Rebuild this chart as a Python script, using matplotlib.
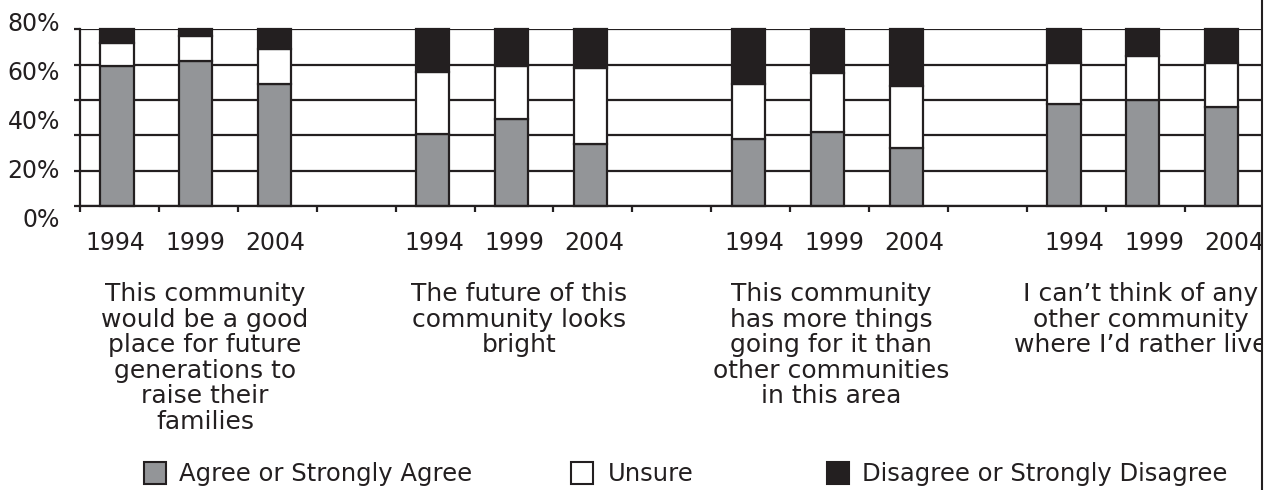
import numpy as np
import matplotlib
matplotlib.use("Agg")
import matplotlib.pyplot as plt
from matplotlib.patches import Rectangle
from matplotlib.lines import Line2D

# ---------------- data ----------------
years = ["1994", "1999", "2004"]
statements = [
    "This community\nwould be a good\nplace for future\ngenerations to\nraise their\nfamilies",
    "The future of this\ncommunity looks\nbright",
    "This community\nhas more things\ngoing for it than\nother communities\nin this area",
    "I can\u2019t think of any\nother community\nwhere I\u2019d rather live",
]
agree    = [79, 82, 69, 41, 49, 35, 38, 42, 33, 58, 60, 56]
unsure   = [13, 14, 20, 35, 30, 43, 31, 33, 35, 23, 25, 25]
disagree = [ 8,  4, 11, 24, 21, 22, 31, 25, 32, 19, 15, 19]
series_names = ["Agree or Strongly Agree", "Unsure", "Disagree or Strongly Disagree"]
ytick_labels = ["0%", "20%", "40%", "60%", "80%"]

# ---------------- style ----------------
W, H = 1277, 490
DARK = "#231f20"
GRAY = "#939598"
WHITE = "#ffffff"
plt.rcParams['font.family'] = ['DejaVu Sans']

fig = plt.figure(figsize=(W / 100, H / 100), dpi=100)
ax = fig.add_axes([80 / W, (H - 206) / H, 1182 / W, (206 - 29.3) / H])

# slot positions: 3 bars per group, one empty slot between groups
slots = []
for g in range(len(statements)):
    for j in range(len(years)):
        slots.append(g * 4 + j)
slots = np.array(slots, dtype=float)

agree_a = np.array(agree)
unsure_a = np.array(unsure)
dis_a = np.array(disagree)
bw = 0.42
lw = 1.6
ax.bar(slots, agree_a, width=bw, color=GRAY, edgecolor=DARK, linewidth=lw, zorder=3, clip_on=False)
ax.bar(slots, unsure_a, width=bw, bottom=agree_a, color=WHITE, edgecolor=DARK, linewidth=lw, zorder=3, clip_on=False)
ax.bar(slots, dis_a, width=bw, bottom=agree_a + unsure_a, color=DARK, edgecolor=DARK, linewidth=lw, zorder=3, clip_on=False)

ax.set_xlim(-0.469, 14.51)
ax.set_ylim(0, 100)

# grid / spines / ticks
ax.set_yticks(np.arange(0, 101, 20))
ax.yaxis.grid(True, color=DARK, linewidth=1.6, zorder=1)
ax.set_axisbelow(True)
ax.set_xticks(-0.469 + np.arange(15))
ax.tick_params(axis='x', direction='out', length=4, width=1.6, color=DARK, labelbottom=False)
ax.tick_params(axis='y', direction='out', length=4.5, width=1.6, color=DARK, labelleft=False)
for s in ['top', 'right']:
    ax.spines[s].set_visible(False)
for s in ['left', 'bottom']:
    ax.spines[s].set_color(DARK)
    ax.spines[s].set_linewidth(1.6)
    ax.spines[s].set_zorder(4)

# y labels (offset as in the reference)
ylab_pos = np.linspace(-11.9, 99.0, len(ytick_labels))
for yv, lab in zip(ylab_pos, ytick_labels):
    ax.text(-0.0169, yv, lab, transform=ax.get_yaxis_transform(), ha='right', va='baseline',
            fontsize=17, color=DARK, clip_on=False)

# year labels
for i, s in enumerate(slots):
    ax.text(s * 1.0127 - 0.025, -24.9, years[i % 3], ha='center', va='baseline',
            fontsize=17, color=DARK, clip_on=False)

# statement labels
cat_offsets = [0.115, 0.093, 0.046, -0.03]
for g, txt in enumerate(statements):
    ax.text(g * 4 + 1 + cat_offsets[g], -43.0, txt, ha='center', va='top', fontsize=18,
            color=DARK, linespacing=1.08, clip_on=False)

# legend (manual, figure pixel coords)
def fx(x):
    return x / W

def fy(y):
    return 1 - y / H

legend_items = [
    (GRAY, 144, 179),
    (WHITE, 571, 608),
    (DARK, 827, 862),
]
for (col, sx, tx), name in zip(legend_items, series_names):
    fig.add_artist(Rectangle((fx(sx), fy(484)), 22 / W, 22 / H, transform=fig.transFigure,
                             facecolor=col, edgecolor=DARK, linewidth=1.5))
    fig.text(fx(tx), fy(481), name, ha='left', va='baseline', fontsize=17.5, color=DARK)

# right border (crop line) with white mask beyond it
fig.add_artist(Rectangle((fx(1263), 0), (W - 1263) / W, 1, transform=fig.transFigure,
                         facecolor='white', edgecolor='none', zorder=10))
fig.add_artist(Line2D([fx(1262), fx(1262)], [0, 1], transform=fig.transFigure,
                      color=DARK, linewidth=1.5, zorder=11))

fig.savefig("out.png", dpi=100, facecolor='white')
